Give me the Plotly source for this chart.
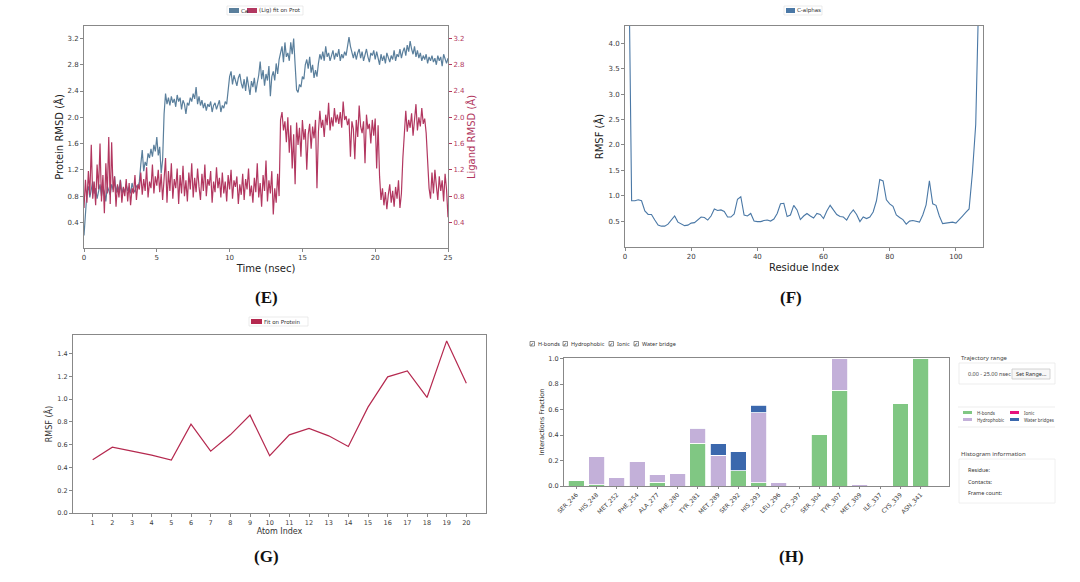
import plotly.graph_objects as go

W, H = 1080, 582
def px(x): return x / W
def py(y): return 1 - y / H

# ---------------- Panel E data (RMSD vs time) ----------------
time_ns = [round(i * 0.1, 1) for i in range(251)]
protein_rmsd = [
    0.20, 0.62, 0.85, 0.95, 0.78, 0.90, 1.02, 0.84, 0.92, 0.76,
    0.88, 0.98, 0.80, 0.93, 0.86, 0.72, 0.95, 0.88, 0.82, 0.98,
    0.90, 1.10, 0.85, 0.96, 0.88, 1.05, 0.84, 0.92, 0.86, 0.98,
    0.88, 0.94, 0.84, 1.00, 0.90, 0.86, 0.96, 0.92, 1.02, 1.28,
    1.50, 1.18, 1.32, 1.26, 1.45, 1.38, 1.52, 1.40, 1.58, 1.48,
    1.70, 1.42, 1.55, 1.15, 1.35, 2.05, 2.36, 2.20, 2.30, 2.18,
    2.32, 2.22, 2.28, 2.16, 2.34, 2.24, 2.30, 2.12, 2.26, 2.20,
    2.05, 2.22, 2.18, 2.30, 2.24, 2.36, 2.28, 2.46, 2.20, 2.32,
    2.18, 2.26, 2.14, 2.22, 2.10, 2.20, 2.16, 2.24, 2.08, 2.18,
    2.22, 2.12, 2.20, 2.26, 2.08, 2.18, 2.14, 2.24, 2.20, 2.44,
    2.62, 2.70, 2.50, 2.64, 2.56, 2.48, 2.60, 2.66, 2.52, 2.44,
    2.58, 2.40, 2.62, 2.50, 2.34, 2.55, 2.46, 2.60, 2.38, 2.52,
    2.64, 2.85, 2.58, 2.72, 2.48, 2.66, 2.56, 2.78, 2.32, 2.62,
    2.70, 2.56, 2.82, 2.66, 2.88, 2.98, 3.08, 2.84, 3.14, 2.92,
    2.98, 2.86, 3.14, 2.96, 3.20, 2.80, 2.42, 2.38, 2.50, 2.46,
    2.62, 2.58, 2.80, 2.88, 2.74, 2.92, 2.68, 2.80, 2.60, 2.72,
    2.62, 2.82, 2.96, 2.88, 3.00, 2.86, 3.08, 2.92, 2.98, 2.86,
    2.94, 3.02, 2.88, 2.98, 2.92, 3.04, 2.86, 2.96, 2.90, 3.00,
    2.94, 3.10, 3.22, 3.08, 2.96, 2.90, 3.00, 2.88, 2.98, 3.04,
    2.90, 3.00, 2.86, 2.96, 3.04, 2.92, 2.84, 2.98, 2.94, 3.02,
    2.88, 3.00, 2.90, 2.80, 2.96, 2.86, 2.94, 2.82, 2.98, 2.90,
    2.84, 2.94, 2.88, 3.02, 2.86, 2.96, 2.92, 3.04, 2.90, 3.00,
    3.06, 2.94, 3.10, 3.00, 3.16, 3.04, 2.96, 3.08, 2.92, 3.02,
    2.90, 2.98, 2.86, 2.94, 2.88, 2.96, 2.82, 2.92, 2.86, 2.94,
    2.84, 2.90, 2.80, 2.94, 2.86, 2.92, 2.78, 2.96, 2.88, 2.82,
    2.90,
]
ligand_rmsd = [
    0.62, 1.05, 0.70, 1.18, 0.82, 1.58, 0.76, 1.02, 0.66, 1.28,
    0.90, 1.60, 0.72, 1.12, 0.54, 1.30, 0.84, 1.70, 0.68, 1.62,
    0.86, 1.10, 0.64, 0.98, 0.78, 1.04, 0.70, 0.94, 0.80, 1.06,
    0.72, 1.00, 0.66, 0.92, 0.84, 1.12, 0.74, 0.98, 0.90, 1.16,
    0.82, 1.06, 0.88, 1.24, 0.78, 1.02, 0.92, 1.28, 0.84, 1.10,
    0.96, 1.20, 0.86, 1.14, 0.74, 1.08, 1.38, 0.70, 1.18, 0.88,
    1.30, 0.76, 1.06, 0.92, 1.22, 0.68, 1.12, 0.84, 1.26, 0.80,
    1.04, 0.72, 1.16, 0.90, 1.30, 0.78, 1.08, 0.86, 1.22, 0.94,
    0.74, 1.14, 0.88, 1.28, 0.80, 1.06, 0.96, 1.18, 0.70, 1.02,
    0.86, 1.24, 0.92, 1.08, 0.78, 1.16, 0.84, 1.02, 0.72, 1.12,
    0.90, 1.20, 0.76, 1.04, 0.94, 1.10, 0.68, 0.98, 0.82, 1.14,
    0.74, 1.06, 0.90, 1.22, 0.80, 0.96, 0.70, 1.08, 0.86, 1.30,
    0.78, 1.00, 0.64, 1.12, 0.88, 1.34, 0.72, 1.04, 0.84, 1.18,
    0.52, 0.92, 0.70, 1.14, 0.80, 1.96, 2.08, 1.80, 1.94, 1.62,
    2.00, 1.46, 1.88, 1.22, 1.74, 0.98, 1.92, 1.58, 1.84, 1.40,
    1.96, 1.66, 1.82, 1.20, 1.74, 1.90, 1.52, 1.86, 1.68, 1.96,
    0.92, 1.78, 2.10, 1.84, 1.96, 1.70, 2.04, 1.88, 2.22, 1.80,
    2.00, 1.86, 2.14, 1.92, 2.04, 1.90, 2.08, 1.84, 2.24, 1.96,
    2.02, 1.88, 1.98, 1.40, 1.94, 1.82, 1.36, 1.96, 1.70, 2.18,
    1.86, 1.76, 1.94, 1.30, 2.04, 1.82, 1.90, 1.60, 1.96, 1.72,
    1.98, 1.22, 1.88, 1.10, 0.74, 0.92, 0.66, 0.86, 0.60, 0.82,
    0.98, 0.70, 0.88, 0.64, 0.94, 0.76, 1.04, 0.62, 0.84, 1.38,
    1.86, 2.10, 1.78, 1.96, 1.84, 2.06, 1.72, 1.92, 2.20, 1.80,
    2.00, 1.86, 2.14, 1.90, 1.98, 1.76, 1.28, 0.92, 0.76, 1.16,
    0.84, 1.20, 0.96, 0.74, 1.10, 0.88, 1.04, 0.72, 1.14, 0.90,
    0.48,
]

# ---------------- Panel F data (protein RMSF) ----------------
residue_index = list(range(1, 108))
calpha_rmsf = [
    6.50, 0.90, 0.90, 0.92, 0.90, 0.70, 0.63, 0.63, 0.52, 0.42,
    0.40, 0.40, 0.44, 0.53, 0.60, 0.48, 0.44, 0.41, 0.42, 0.46,
    0.47, 0.52, 0.58, 0.57, 0.52, 0.60, 0.74, 0.71, 0.72, 0.69,
    0.58, 0.58, 0.64, 0.93, 0.98, 0.62, 0.60, 0.65, 0.50, 0.49,
    0.49, 0.51, 0.52, 0.50, 0.54, 0.65, 0.84, 0.85, 0.59, 0.62,
    0.81, 0.72, 0.53, 0.60, 0.65, 0.60, 0.56, 0.65, 0.63, 0.55,
    0.70, 0.81, 0.72, 0.63, 0.59, 0.58, 0.52, 0.64, 0.72, 0.63,
    0.49, 0.58, 0.55, 0.58, 0.68, 0.90, 1.32, 1.29, 0.92, 0.84,
    0.79, 0.62, 0.57, 0.53, 0.44, 0.50, 0.51, 0.50, 0.48, 0.62,
    0.82, 1.29, 0.84, 0.81, 0.60, 0.45, 0.46, 0.47, 0.48, 0.46,
    0.54, 0.60, 0.67, 0.74, 1.45, 2.40, 5.20,
]

# ---------------- Panel G data (ligand RMSF) ----------------
atom_index = list(range(1, 21))
ligand_rmsf = [0.468, 0.578, 0.544, 0.509, 0.465, 0.781, 0.544, 0.687, 0.860, 0.503,
               0.687, 0.743, 0.678, 0.585, 0.930, 1.196, 1.249, 1.015, 1.512, 1.140]

# ---------------- Panel H data (interaction fractions) ----------------
residues = ["SER_246", "HIS_248", "MET_252", "PHE_254", "ALA_277", "PHE_280",
            "TYR_281", "MET_289", "SER_292", "HIS_293", "LEU_296", "CYS_297",
            "SER_304", "TYR_307", "MET_309", "ILE_337", "CYS_339", "ASN_341"]
hbonds =        [0.045, 0.010, 0.000, 0.000, 0.030, 0.000, 0.335, 0.000, 0.120, 0.025,
                 0.000, 0.000, 0.405, 0.750, 0.000, 0.000, 0.645, 1.000]
hydrophobic =   [0.000, 0.225, 0.070, 0.195, 0.060, 0.095, 0.115, 0.240, 0.000, 0.550,
                 0.030, 0.000, 0.000, 0.250, 0.015, 0.000, 0.000, 0.000]
ionic =         [0.0] * 18
water_bridges = [0.000, 0.000, 0.000, 0.000, 0.000, 0.000, 0.005, 0.090, 0.150, 0.060,
                 0.000, 0.000, 0.000, 0.000, 0.000, 0.000, 0.000, 0.000]
checkbox_labels = ["H-bonds", "Hydrophobic", "Ionic", "Water bridge"]

BLUE_E = "#5a7f9c"
RED_E = "#b23760"
BLUE_F = "#4a78a6"
RED_G = "#b5294f"
GREEN = "#80c783"
PURPLE = "#c3b0d9"
MAGENTA = "#e6127d"
WATER = "#3b68ad"
FONT = "DejaVu Sans"
TICK_C = "#3a3a3a"
FRAME = "#888888"

fig = go.Figure()

fig.add_trace(go.Scatter(x=time_ns, y=protein_rmsd, mode="lines", xaxis="x", yaxis="y",
                         line=dict(color=BLUE_E, width=1.2), showlegend=False))
fig.add_trace(go.Scatter(x=time_ns, y=ligand_rmsd, mode="lines", xaxis="x", yaxis="y2",
                         line=dict(color=RED_E, width=1.2), showlegend=False))
fig.add_trace(go.Scatter(x=residue_index, y=calpha_rmsf, mode="lines", xaxis="x2", yaxis="y3",
                         line=dict(color=BLUE_F, width=1.1), showlegend=False))
fig.add_trace(go.Scatter(x=atom_index, y=ligand_rmsf, mode="lines", xaxis="x3", yaxis="y4",
                         line=dict(color=RED_G, width=1.2), showlegend=False))
for name, vals, col in [("H-bonds", hbonds, GREEN), ("Hydrophobic", hydrophobic, PURPLE),
                        ("Ionic", ionic, MAGENTA), ("Water bridges", water_bridges, WATER)]:
    fig.add_trace(go.Bar(x=residues, y=vals, name=name, xaxis="x4", yaxis="y5",
                         marker=dict(color=col, line=dict(color="white", width=0.8)),
                         width=0.78, showlegend=False))

def ax(**kw):
    d = dict(showline=True, linecolor=FRAME, linewidth=1, mirror=True, ticks="outside",
             ticklen=3, tickwidth=1, tickcolor=FRAME, showgrid=False, zeroline=False,
             automargin=False, tickfont=dict(family=FONT, size=7, color=TICK_C))
    d.update(kw)
    return d

title_font = dict(family=FONT, size=10, color="#222222")
small_title = dict(family=FONT, size=8, color="#333333")

fig.update_layout(
    width=W, height=H, margin=dict(l=0, r=0, t=0, b=0, pad=0),
    paper_bgcolor="white", plot_bgcolor="white", barmode="stack", bargap=0.2,
    xaxis=ax(domain=[px(84), px(448)], anchor="y", range=[0, 25], tickvals=[0, 5, 10, 15, 20, 25],
             title=dict(text="Time (nsec)", font=title_font, standoff=3)),
    yaxis=ax(domain=[py(248), py(26)], anchor="x", range=[0.01, 3.39],
             tickvals=[0.4, 0.8, 1.2, 1.6, 2.0, 2.4, 2.8, 3.2], tickformat=".1f",
             title=dict(text="Protein RMSD (Å)", font=title_font, standoff=1)),
    yaxis2=ax(overlaying="y", side="right", anchor="x", range=[0.01, 3.39], showline=False, mirror=False,
              tickvals=[0.4, 0.8, 1.2, 1.6, 2.0, 2.4, 2.8, 3.2], tickformat=".1f",
              tickfont=dict(family=FONT, size=7, color=RED_E), tickcolor=RED_E,
              title=dict(text="Ligand RMSD (Å)", font=dict(family=FONT, size=10, color=RED_E), standoff=1)),
    xaxis2=ax(domain=[px(625), px(983)], anchor="y3", range=[0, 108.2], tickvals=[0, 20, 40, 60, 80, 100],
              title=dict(text="Residue Index", font=title_font, standoff=3)),
    yaxis3=ax(domain=[py(247), py(26)], anchor="x2", range=[-0.01, 4.34],
              tickvals=[0.5, 1.0, 1.5, 2.0, 2.5, 3.0, 3.5, 4.0], tickformat=".1f",
              title=dict(text="RMSF (Å)", font=title_font, standoff=2)),
    xaxis3=ax(domain=[px(73), px(486)], anchor="y4", range=[0, 21], tickvals=atom_index,
              tickfont=dict(family=FONT, size=6.5, color=TICK_C),
              title=dict(text="Atom Index", font=small_title, standoff=1)),
    yaxis4=ax(domain=[py(513), py(335)], anchor="x3", range=[0, 1.564],
              tickvals=[0, 0.2, 0.4, 0.6, 0.8, 1.0, 1.2, 1.4], tickformat=".1f",
              tickfont=dict(family=FONT, size=6.5, color=TICK_C),
              title=dict(text="RMSF (Å)", font=small_title, standoff=3)),
    xaxis4=ax(domain=[px(564), px(949)], anchor="y5", range=[-0.61, 18.4], type="category",
              tickangle=-45, ticklen=2, tickfont=dict(family=FONT, size=6, color=TICK_C)),
    yaxis5=ax(domain=[py(486), py(358)], anchor="x4", range=[0, 1.005],
              tickvals=[0, 0.2, 0.4, 0.6, 0.8, 1.0], tickformat=".1f",
              tickfont=dict(family=FONT, size=6.5, color=TICK_C),
              title=dict(text="Interactions Fraction", font=dict(family=FONT, size=6.5, color="#333"), standoff=3)),
)

shapes = []
annotations = []

def rect(x0, y0, x1, y1, fill, line="rgba(0,0,0,0)", lw=0):
    shapes.append(dict(type="rect", xref="paper", yref="paper", x0=px(x0), x1=px(x1), y0=py(y1), y1=py(y0),
                       fillcolor=fill, line=dict(color=line, width=lw), layer="above"))

def text(x, y, s, size=6, color="#333", xanchor="left", family=FONT, **kw):
    annotations.append(dict(x=px(x), y=py(y), xref="paper", yref="paper", text=s, showarrow=False,
                            xanchor=xanchor, yanchor="middle", font=dict(family=family, size=size, color=color), **kw))

# pseudo-legends
rect(227, 6, 303, 15, "white", "#dddddd", 0.6)
rect(229, 8, 239, 13, BLUE_E)
text(239, 10.5, "Ca", 5.5)
rect(247, 8, 257, 13, RED_E)
text(257, 10.5, "(Lig) fit on Prot", 5.5)

rect(784, 6, 822, 15, "white", "#dddddd", 0.6)
rect(786, 8, 795, 13, BLUE_F)
text(795, 10.5, "C-alphas", 5.5)

rect(249, 317, 308, 326, "white", "#dddddd", 0.6)
rect(251, 319, 262, 324, RED_G)
text(262, 321.5, "Fit on Protein", 5.5)

# panel labels
for lbl, x, y in [("(E)", 266, 297), ("(F)", 791, 297), ("(G)", 266, 556), ("(H)", 791, 556)]:
    text(x, y, "<b>" + lbl + "</b>", 17, "#111", xanchor="center", family="Liberation Serif")

# H checkbox row
UI = "Noto Sans"
for lbl, bx in zip(checkbox_labels, [530, 563, 609, 634]):
    rect(bx, 341.5, bx + 4.5, 346, "white", "#444444", 0.6)
    text(bx + 2.3, 343.6, "✓", 5, "#111", xanchor="center", family="DejaVu Sans")
    text(bx + 5.5, 344, lbl, 5.5, "#333", family=UI)

# H side panel
text(959, 358, "Trajectory range", 6, "#444", family=UI)
rect(959, 363, 1055, 384, "white", "#e8e8e8", 0.8)
text(966, 374, "0.00 - 25.00 nsec", 5.5, "#444", family=UI)
rect(1012, 369, 1050, 379, "#f7f7f7", "#c8c8c8", 0.8)
text(1031, 374, "Set Range...", 5.5, "#333", xanchor="center", family=UI)

shapes.append(dict(type="line", xref="paper", yref="paper", x0=px(958), x1=px(1055), y0=py(407), y1=py(407),
                   line=dict(color="#e8e8e8", width=0.8)))
shapes.append(dict(type="line", xref="paper", yref="paper", x0=px(958), x1=px(1055), y0=py(427), y1=py(427),
                   line=dict(color="#e8e8e8", width=0.8)))
rect(963, 411, 972, 414, GREEN)
text(975, 412.5, "H-bonds", 4.5, "#444", family=UI)
rect(963, 418, 972, 421, PURPLE)
text(975, 419.5, "Hydrophobic", 4.5, "#444", family=UI)
rect(1010, 411, 1019, 414, MAGENTA)
text(1022, 412.5, "Ionic", 4.5, "#444", family=UI)
rect(1010, 418, 1019, 421, WATER)
text(1022, 419.5, "Water bridges", 4.5, "#444", family=UI)

text(959, 454, "Histogram information", 6, "#444", family=UI)
rect(959, 459, 1055, 503, "white", "#ececec", 0.8)
text(966, 470, "Residue:", 5.5, "#333", family=UI)
text(966, 482, "Contacts:", 5.5, "#333", family=UI)
text(966, 493, "Frame count:", 5.5, "#333", family=UI)

fig.update_layout(shapes=shapes, annotations=annotations)
fig.write_html("out.html", config={"displayModeBar": False},
               post_script="document.body.style.margin='0';document.body.style.overflow='hidden';")
